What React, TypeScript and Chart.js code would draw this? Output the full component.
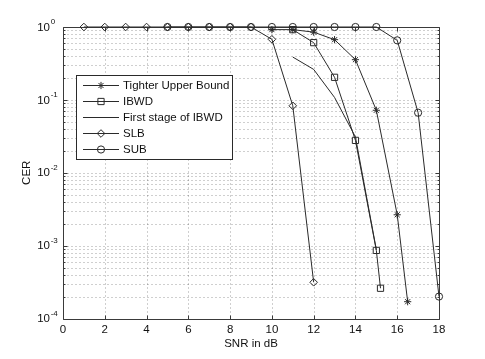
import React, { useEffect, useRef } from 'react';
import { Chart, registerables } from 'chart.js';

Chart.register(...registerables);

// ---- data ----
const xTickValues = [0, 2, 4, 6, 8, 10, 12, 14, 16, 18];
const yDecadeValues = [1, 1e-1, 1e-2, 1e-3, 1e-4];
const yDecadeExponents = ['0', '-1', '-2', '-3', '-4'];

const tubX = [10, 11, 12, 13, 14, 15, 16, 16.5];
const tubY = [0.92, 0.92, 0.85, 0.67, 0.356, 0.072, 0.00265, 0.00017];

const ibwdX = [11, 12, 13, 14, 15, 15.2];
const ibwdY = [0.92, 0.61, 0.204, 0.0278, 0.00086, 0.00026];

const firstX = [11, 12, 13, 14, 15];
const firstY = [0.387, 0.262, 0.108, 0.031, 0.00088];

const slbX = [1, 2, 3, 4, 5, 6, 7, 8, 9, 10, 11, 12];
const slbY = [1, 1, 1, 1, 1, 1, 1, 1, 1, 0.678, 0.083, 0.000314];

const subX = [5, 6, 7, 8, 9, 10, 11, 12, 13, 14, 15, 16, 17, 18];
const subY = [1, 1, 1, 1, 1, 1, 1, 1, 1, 1, 1, 0.656, 0.0667, 0.0002];

const seriesLabels = ['Tighter Upper Bound', 'IBWD', 'First stage of IBWD', 'SLB', 'SUB'];
const xTitle = 'SNR in dB';
const yTitle = 'CER';

const FONT = '"Liberation Sans", Arial, Helvetica, sans-serif';
const LINE = '#2a2a2a';

const zip = (xs: number[], ys: number[]) => xs.map((x, i) => ({ x, y: ys[i] }));

function drawMarker(ctx: CanvasRenderingContext2D, style: string, x: number, y: number, r: number) {
  ctx.beginPath();
  if (style === 'circle') {
    ctx.arc(x, y, r, 0, Math.PI * 2);
  } else if (style === 'rect') {
    const s = r * Math.SQRT1_2;
    ctx.rect(x - s, y - s, 2 * s, 2 * s);
  } else if (style === 'rectRot') {
    ctx.moveTo(x, y - r);
    ctx.lineTo(x + r, y);
    ctx.lineTo(x, y + r);
    ctx.lineTo(x - r, y);
    ctx.closePath();
  } else if (style === 'star') {
    const d = r * Math.SQRT1_2;
    ctx.moveTo(x - r, y); ctx.lineTo(x + r, y);
    ctx.moveTo(x, y - r); ctx.lineTo(x, y + r);
    ctx.moveTo(x - d, y - d); ctx.lineTo(x + d, y + d);
    ctx.moveTo(x - d, y + d); ctx.lineTo(x + d, y - d);
  }
  ctx.stroke();
}

const decorPlugin = {
  id: 'matlabDecor',
  beforeDatasetsDraw(chart: any) {
    const { ctx, chartArea } = chart;
    const xs = chart.scales.x;
    const ys = chart.scales.y;
    const L = Math.round(chartArea.left) + 0.5;
    const R = Math.round(chartArea.right) + 0.5;
    const T = Math.round(chartArea.top) + 0.5;
    const B = Math.round(chartArea.bottom) + 0.5;
    ctx.save();
    // grid
    ctx.strokeStyle = 'rgba(0,0,0,0.38)';
    ctx.lineWidth = 1;
    ctx.setLineDash([1, 3]);
    for (const v of xTickValues) {
      const px = Math.round(xs.getPixelForValue(v)) + 0.5;
      if (px <= L + 1 || px >= R - 1) continue;
      ctx.beginPath(); ctx.moveTo(px, T); ctx.lineTo(px, B); ctx.stroke();
    }
    const minorVals: number[] = [];
    for (let e = -4; e < 0; e++) {
      for (let m = 1; m <= 9; m++) minorVals.push(m * Math.pow(10, e));
    }
    for (const v of minorVals) {
      const py = Math.round(ys.getPixelForValue(v)) + 0.5;
      if (py <= T + 1 || py >= B - 1) continue;
      ctx.beginPath(); ctx.moveTo(L, py); ctx.lineTo(R, py); ctx.stroke();
    }
    ctx.setLineDash([]);
    // box
    ctx.strokeStyle = '#3a3a3a';
    ctx.beginPath();
    ctx.rect(L, T, R - L, B - T);
    ctx.stroke();
    // inner ticks
    ctx.beginPath();
    for (const v of xTickValues) {
      const px = Math.round(xs.getPixelForValue(v)) + 0.5;
      ctx.moveTo(px, B); ctx.lineTo(px, B - 4);
      ctx.moveTo(px, T); ctx.lineTo(px, T + 4);
    }
    for (const v of minorVals.concat([1])) {
      const py = Math.round(ys.getPixelForValue(v)) + 0.5;
      const isMajor = Math.abs(Math.log10(v) - Math.round(Math.log10(v))) < 1e-9;
      const len = isMajor ? 4 : 2;
      ctx.moveTo(L, py); ctx.lineTo(L + len, py);
      ctx.moveTo(R, py); ctx.lineTo(R - len, py);
    }
    ctx.stroke();
    ctx.restore();
  },
  afterDatasetsDraw(chart: any) {
    const { ctx, chartArea } = chart;
    const xs = chart.scales.x;
    const ys = chart.scales.y;
    ctx.save();
    ctx.fillStyle = '#111';
    // x tick labels
    ctx.font = `11.5px ${FONT}`;
    ctx.textAlign = 'center';
    ctx.textBaseline = 'middle';
    for (const v of xTickValues) {
      ctx.fillText(String(v), xs.getPixelForValue(v), chartArea.bottom + 11);
    }
    // x title
    ctx.fillText(xTitle, (chartArea.left + chartArea.right) / 2, chartArea.bottom + 25.5);
    // y tick labels 10^k
    yDecadeValues.forEach((v, i) => {
      const py = ys.getPixelForValue(v);
      ctx.font = `11.5px ${FONT}`;
      ctx.textAlign = 'right';
      ctx.textBaseline = 'middle';
      ctx.fillText('10', chartArea.left - 13, py + 0.5);
      ctx.font = `8px ${FONT}`;
      ctx.textAlign = 'left';
      ctx.fillText(yDecadeExponents[i], chartArea.left - 12.3, py - 5);
    });
    // y title
    ctx.save();
    ctx.translate(chartArea.left - 36, (chartArea.top + chartArea.bottom) / 2);
    ctx.rotate(-Math.PI / 2);
    ctx.font = `11.5px ${FONT}`;
    ctx.textAlign = 'center';
    ctx.textBaseline = 'middle';
    ctx.fillText(yTitle, 0, 0);
    ctx.restore();

    // legend
    const bx = 76.5, by = 75.5, bw = 156, bh = 84;
    ctx.fillStyle = '#fff';
    ctx.fillRect(bx, by, bw, bh);
    ctx.strokeStyle = '#2a2a2a';
    ctx.lineWidth = 1;
    ctx.strokeRect(bx, by, bw, bh);
    chart.data.datasets.forEach((ds: any, i: number) => {
      const cy = 85.5 + i * 16;
      ctx.strokeStyle = LINE;
      ctx.lineWidth = 1;
      ctx.beginPath();
      ctx.moveTo(83, cy); ctx.lineTo(119, cy);
      ctx.stroke();
      if (ds.pointRadius > 0) {
        ctx.fillStyle = '#fff';
        drawMarker(ctx, ds.pointStyle, 101, cy, ds.pointRadius);
      }
      ctx.fillStyle = '#111';
      ctx.font = `11.5px ${FONT}`;
      ctx.textAlign = 'left';
      ctx.textBaseline = 'middle';
      ctx.fillText(ds.label, 123, cy + 0.5);
    });
    ctx.restore();
  },
};

export default function App() {
  const ref = useRef<HTMLCanvasElement | null>(null);
  useEffect(() => {
    if (!ref.current) return;
    const common = {
      borderColor: LINE,
      borderWidth: 1,
      pointBorderColor: LINE,
      pointBackgroundColor: 'rgba(0,0,0,0)',
      pointBorderWidth: 1,
      tension: 0,
      clip: false as any,
      fill: false,
    };
    const chart = new Chart(ref.current, {
      type: 'line',
      data: {
        datasets: [
          { ...common, label: seriesLabels[0], data: zip(tubX, tubY), pointStyle: 'star', pointRadius: 3.6 },
          { ...common, label: seriesLabels[1], data: zip(ibwdX, ibwdY), pointStyle: 'rect', pointRadius: 4.4 },
          { ...common, label: seriesLabels[2], data: zip(firstX, firstY), pointStyle: 'circle', pointRadius: 0 },
          { ...common, label: seriesLabels[3], data: zip(slbX, slbY), pointStyle: 'rectRot', pointRadius: 3.8 },
          { ...common, label: seriesLabels[4], data: zip(subX, subY), pointStyle: 'circle', pointRadius: 3.6 },
        ],
      },
      options: {
        responsive: false,
        animation: false,
        events: [],
        layout: { padding: { left: 63, top: 27, right: 46, bottom: 40.5 } },
        plugins: { legend: { display: false }, tooltip: { enabled: false }, title: { display: false } },
        scales: {
          x: { type: 'linear', min: 0, max: 18, display: false },
          y: { type: 'logarithmic', min: 1e-4, max: 1, display: false },
        },
      },
      plugins: [decorPlugin],
    });
    return () => chart.destroy();
  }, []);
  return (
    <div style={{ position: 'fixed', left: 0, top: 0, width: 485, height: 359, background: '#fff' }}>
      <canvas ref={ref} width={485} height={359} />
    </div>
  );
}
